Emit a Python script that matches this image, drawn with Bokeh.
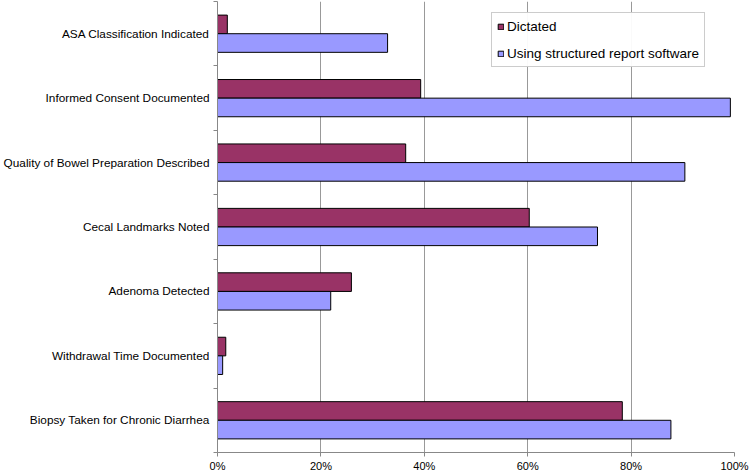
from bokeh.plotting import figure
from bokeh.models import (ColumnDataSource, Range1d, FixedTicker, PrintfTickFormatter,
                          Legend, LegendItem)
from bokeh.transform import dodge
from bokeh.embed import file_html
from bokeh.resources import INLINE

categories = [
    "ASA Classification Indicated",
    "Informed Consent Documented",
    "Quality of Bowel Preparation Described",
    "Cecal Landmarks Noted",
    "Adenoma Detected",
    "Withdrawal Time Documented",
    "Biopsy Taken for Chronic Diarrhea",
]
dictated = [1.9, 39.3, 36.4, 60.3, 25.9, 1.6, 78.3]
structured = [32.9, 99.2, 90.4, 73.5, 21.9, 1.0, 87.7]
series_names = ["Dictated", "Using structured report software"]
x_ticks = [0, 20, 40, 60, 80, 100]

FONT = "Liberation Sans"
C_DICT = "#993366"
C_STRUCT = "#9999FF"

n = len(categories)
centers = [n - i - 0.5 for i in range(n)]
source = ColumnDataSource(dict(cat=categories, y=centers, dictated=dictated, structured=structured))

p = figure(width=750, height=474, output_backend="svg", toolbar_location=None,
           x_range=Range1d(0, 100), y_range=Range1d(0, n),
           min_border_left=217, min_border_right=16, min_border_top=1, min_border_bottom=0)
p.outline_line_color = None
p.background_fill_color = "white"
p.border_fill_color = "white"

bh = 0.289
r1 = p.hbar(y=dodge("y", bh / 2, range=p.y_range), right="dictated", left=0, height=bh,
            source=source, fill_color=C_DICT, line_color="black", line_width=1)
r2 = p.hbar(y=dodge("y", -bh / 2, range=p.y_range), right="structured", left=0, height=bh,
            source=source, fill_color=C_STRUCT, line_color="black", line_width=1)

# x axis
p.xaxis.ticker = FixedTicker(ticks=x_ticks)
p.xaxis.formatter = PrintfTickFormatter(format="%d%%")
p.xaxis.axis_line_color = "#888888"
p.xaxis.major_tick_line_color = "#888888"
p.xaxis.major_tick_out = 4
p.xaxis.major_tick_in = 0
p.xaxis.minor_tick_line_color = None
p.xaxis.major_label_standoff = 3
p.xaxis.major_label_text_font = FONT
p.xaxis.major_label_text_font_size = "11px"
p.xaxis.major_label_text_color = "black"

# y axis
p.yaxis.ticker = FixedTicker(ticks=centers, minor_ticks=list(range(n + 1)))
p.yaxis.major_label_overrides = {c: cat for c, cat in zip(centers, categories)}
p.yaxis.axis_line_color = "#888888"
p.yaxis.major_tick_line_color = None
p.yaxis.major_tick_out = 0
p.yaxis.major_tick_in = 0
p.yaxis.minor_tick_line_color = "#888888"
p.yaxis.minor_tick_out = 4
p.yaxis.minor_tick_in = 0
p.yaxis.major_label_standoff = 4
p.yaxis.major_label_text_font = FONT
p.yaxis.major_label_text_font_size = "11.8px"
p.yaxis.major_label_text_color = "black"

p.xgrid.ticker = FixedTicker(ticks=x_ticks[1:])
p.xgrid.grid_line_color = "#999999"
p.ygrid.grid_line_color = None

legend = Legend(items=[LegendItem(label=series_names[0], renderers=[r1]),
                       LegendItem(label=series_names[1], renderers=[r2])],
                location=(274, 385))
legend.label_text_font = FONT
legend.label_text_font_size = "13.5px"
legend.label_text_color = "black"
legend.glyph_width = 7
legend.glyph_height = 7
legend.label_height = 16
legend.label_standoff = 3
legend.spacing = 11
legend.padding = 5
legend.margin = 0
legend.border_line_color = "#999999"
legend.border_line_width = 1
legend.background_fill_color = "white"
p.add_layout(legend, "center")

open("out.html", "w").write(file_html(p, INLINE))
